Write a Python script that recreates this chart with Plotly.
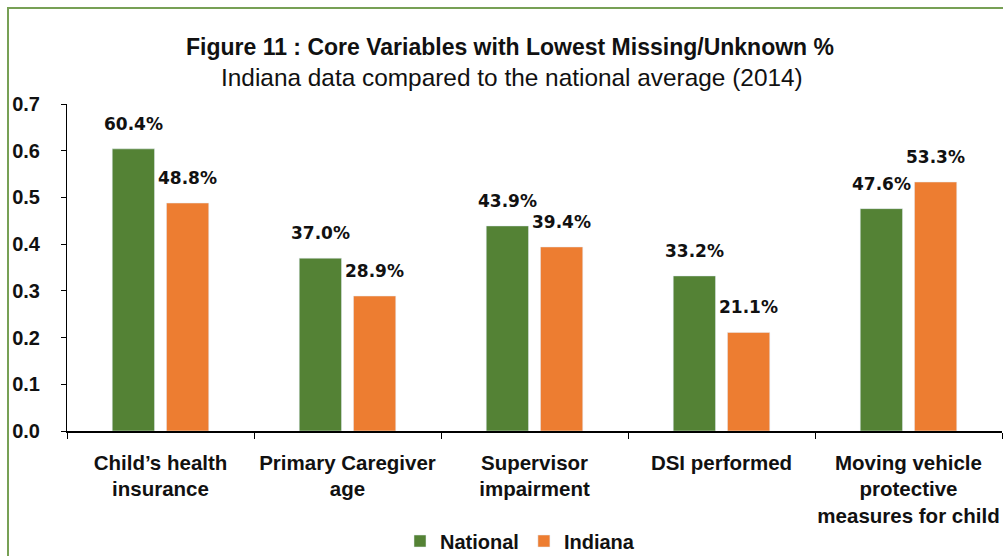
import plotly.graph_objects as go

categories = ["Child\u2019s health<br>insurance", "Primary Caregiver<br>age", "Supervisor<br>impairment",
              "DSI performed", "Moving vehicle<br>protective<br>measures for child"]
national = [0.604, 0.370, 0.439, 0.332, 0.476]
indiana = [0.488, 0.289, 0.394, 0.211, 0.533]
series_names = ["National", "Indiana"]
colors = ["#548235", "#ED7D31"]
y_ticks = [0.0, 0.1, 0.2, 0.3, 0.4, 0.5, 0.6, 0.7]

W, H = 1003, 556
L, R, T, B = 67, 1, 104, 125
pw, ph = W - L - R, H - T - B
FONT = "Liberation Sans, Arial"
BARGAP, GROUPGAP = 0.42, 0.22

def px(x):
    return (x - L) / pw

def py(y):
    return (H - B - y) / ph

fig = go.Figure()
for name, vals, col in zip(series_names, [national, indiana], colors):
    fig.add_trace(go.Bar(x=categories, y=vals, name=name, marker_color=col, cliponaxis=False))

# data labels, placed on the category axis at each bar's slot centre
cat_px = pw / len(categories)
slot = cat_px * (1 - BARGAP) / 2
annotations = []
for i, vals in enumerate([national, indiana]):
    shift = (i - 0.5) * slot
    for c, v in zip(categories, vals):
        annotations.append(dict(x=c, y=v, xref="x", yref="y", text=f"{v*100:.1f}%", showarrow=False,
                                xshift=shift, yshift=25, xanchor="center", yanchor="middle",
                                font=dict(family="DejaVu Sans", size=17, color="#111", weight="bold")))

annotations += [
    dict(text="<b>Figure 11 : Core Variables with Lowest Missing/Unknown %</b>", x=px(510), y=py(47),
         xref="paper", yref="paper", showarrow=False, xanchor="center", yanchor="middle",
         font=dict(size=23, family=FONT)),
    dict(text="Indiana data compared to the national average (2014)", x=px(512), y=py(78),
         xref="paper", yref="paper", showarrow=False, xanchor="center", yanchor="middle",
         font=dict(size=24.4, family=FONT)),
]

fig.update_layout(
    width=W, height=H, margin=dict(l=L, r=R, t=T, b=B, autoexpand=False),
    paper_bgcolor="white", plot_bgcolor="white",
    barmode="group", bargap=BARGAP, bargroupgap=GROUPGAP,
    font=dict(family=FONT, color="#111"),
    showlegend=True,
    legend=dict(orientation="h", x=px(520), xanchor="center", y=py(541), yanchor="middle",
                font=dict(size=20, family=FONT, weight="bold"),
                itemwidth=30, traceorder="normal"),
    annotations=annotations,
    shapes=[dict(type="rect", xref="paper", yref="paper", x0=px(8), x1=px(1200), y0=py(800), y1=py(8),
                 line=dict(color="#77A055", width=2), fillcolor="rgba(0,0,0,0)", layer="below")],
)
fig.update_yaxes(range=[0, 0.7], tickvals=y_ticks, tickformat=".1f", showgrid=False, zeroline=False,
                 showline=True, linecolor="black", linewidth=1, ticks="outside", ticklen=5, tickcolor="black",
                 ticklabelstandoff=17, automargin=False,
                 tickfont=dict(size=20, family=FONT, weight="bold"))
fig.update_xaxes(showgrid=False, showline=True, linecolor="black", linewidth=2, ticks="outside", ticklen=6,
                 tickcolor="black", tickson="boundaries", ticklabelstandoff=12, automargin=False, tickangle=0,
                 tickfont=dict(size=20.5, family=FONT, weight="bold"))
fig.write_html("out.html", config={"displayModeBar": False},
               post_script="document.body.style.margin='0';document.body.style.overflow='hidden';")
